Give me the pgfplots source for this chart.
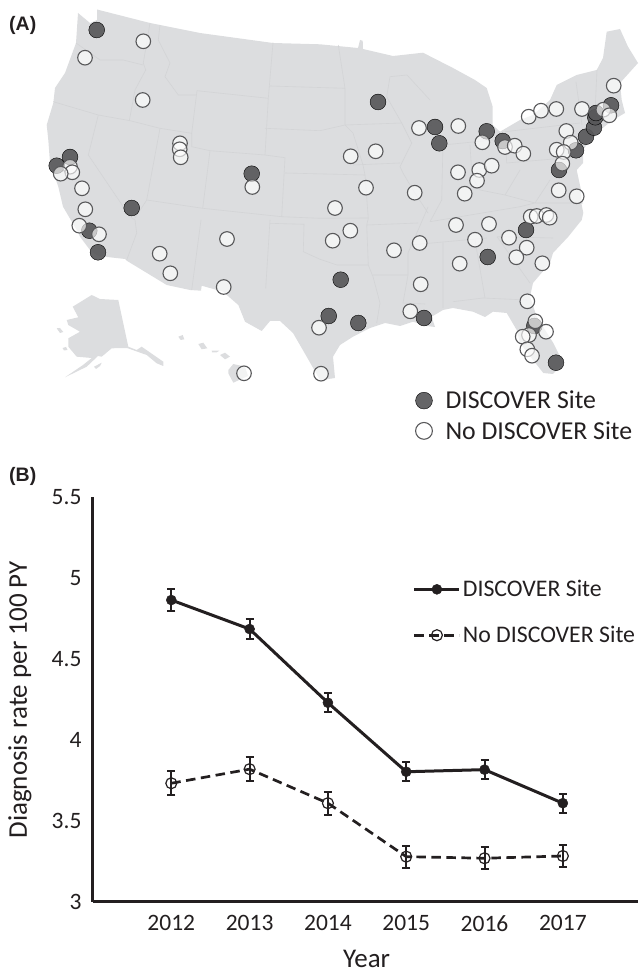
\documentclass[border=0pt]{standalone}
\usepackage{fontspec}
\setmainfont{Carlito}
\newfontfamily\panelfont{Liberation Sans}
\usepackage{pgfplots}
\pgfplotsset{compat=1.18}
\definecolor{mapgray}{HTML}{DCDDDF}
\definecolor{border}{HTML}{D3D4D6}
\definecolor{site}{HTML}{58585A}
\definecolor{ink}{HTML}{231F20}
\begin{document}
\begin{tikzpicture}
\useasboundingbox (0,0) rectangle (638pt,972pt);
\begin{axis}[
  at={(0pt,0pt)}, anchor=south west,
  scale only axis, width=638pt, height=972pt,
  xmin=0, xmax=638, ymin=0, ymax=972, y dir=reverse,
  hide axis, clip=false, unbounded coords=jump,
  legend cell align=left,
  legend style={at={(axis cs:415.5,389)}, anchor=north west, draw=none, fill=none,
    font=\fontsize{25.8}{27}\selectfont, text=ink, row sep=7pt, inner sep=0pt, outer sep=0pt},
  legend image code/.code={
    \node[draw=none, fill=none, inner sep=0pt, minimum width=28pt, minimum height=1pt, anchor=west] at (0pt,0pt) {};
    \draw[#1, only marks, mark size=8.4pt] plot coordinates {(8.5pt,0pt)};
  },
]
% lower 48
\addplot[fill=mapgray, draw=none, forget plot] coordinates {
(78,13)(90,23)(97,20)(97,9.5)(150,23)(200,33)(273,43)(320,44.3)(358,48)(360,40)(362.7,40.7)(363,49)(393,56)(423,52.7)(453,68)(475,80)(486.7,88)(492.7,106.7)(492.7,125)(500,131.7)(520,120)(533,115)(550,100)(556.7,85)(576.7,75)(596.7,70)(603,58)(606.7,31.7)(620,29)(628,46.7)(638,63)(620,83)(621.7,100)(625,113)(613,120)(600,130)(590,140)(583,150)(583,163)(576.7,170)(581,190)(581.7,205)(583.3,213)(581.7,220)(568.3,236.7)(553,253)(550,263)(533,283)(530,296.7)(536.7,316.7)(553.3,343)(563.3,363)(553,374)(543.3,373)(533,360)(520,343)(516.7,330)(506.7,313)(493,311.7)(485,317)(473,311.7)(453,308)(443,310)(431.7,316.7)(435,327)(426.7,326)(413,321.7)(400,326)(385,323)(370,328)(353,336.7)(340,345)(333,356.7)(335,378)(326.7,379.3)(320,380)(306.7,356.7)(293,333)(280,321)(270,321)(261.7,331)(245,321.7)(238.3,305)(223,291.7)(201.7,285.7)(201,290.7)(190,290)(166.7,285)(126.7,260.7)(125,259)(98.3,256)(90,250)(80,236.7)(76.7,230)(63,206.7)(58.3,186.7)(50,163)(48.3,140)(46.7,125)(53.3,103)(55,88)(65,73)(76,43)
} --cycle;
% Alaska
\addplot[fill=mapgray, draw=none, forget plot] coordinates {
(91.7,295)(100,299)(118.3,300)(128.3,346.7)(136.7,350)(141.7,346.7)(163.3,361.7)(163.3,366)(156.7,363.3)(146.7,355)(127,348)(111.7,348.3)(101.7,356.7)(98,356)(86.7,366.7)(65,377.3)(83,365)(91.7,358)(76.7,356.7)(68.3,346.7)(68.3,338.3)(80,331.7)(68.3,325)(66.7,320)(78.3,317.3)(72.7,306.7)
} --cycle;
\addplot[fill=mapgray, draw=none, forget plot] coordinates {(94,366.7)(101.7,362.7)(100,366)(96,369)} --cycle;
\addplot[fill=mapgray, draw=none, forget plot] coordinates {(56.7,328.3)(60,328)(63.3,332)(60,333)} --cycle;
\addplot[fill=mapgray, draw=none, forget plot] coordinates {(62.5,348)(66,347)(67.5,350)(64,350.5)} --cycle;
% Hawaii
\addplot[fill=mapgray, draw=none, forget plot] coordinates {(228.3,370)(233.3,364)(245,366.7)(248,376)(233.3,382.7)(228.3,373.3)} --cycle;
\addplot[fill=mapgray, draw=none, forget plot] coordinates {(220,355)(225,352.7)(230,356.7)(225,359.3)} --cycle;
\addplot[fill=mapgray, draw=none, forget plot] coordinates {(211.7,350.7)(219.3,350.7)(216.7,352.3)(212,352.3)} --cycle;
\addplot[fill=mapgray, draw=none, forget plot] coordinates {(198.3,344)(203.3,342.7)(207.3,348.3)(201.7,349.3)} --cycle;
\addplot[fill=mapgray, draw=none, forget plot] coordinates {(178.3,336.7)(182.7,335)(184.3,339.3)(180.7,340)} --cycle;
% state lines
\addplot[draw=border, line width=0.6pt, forget plot] coordinates {
(76,43)(100,60)(123,60)(143,65)(0,nan)
(150,23)(143.3,63)(145.7,70)(135,90)(129.3,120.7)(0,nan)
(53.3,101.7)(98.3,115)(130,120.7)(160,128.3)(191.7,133.3)(0,nan)
(98.3,115)(88.3,155)(130,216.7)(135,220)(136.7,233)(126.7,260)(0,nan)
(160,128.3)(146.7,200)(135,218)(0,nan)
(160,25)(158.3,40)(170,63)(165,76.7)(178.3,95)(196.7,95)(0,nan)
(197,90.7)(191.7,133.3)(191.7,146.7)(210,150.7)(265,155)(285,157.7)(0,nan)
(197,90.7)(268.3,98.3)(0,nan)
(273,42.7)(268.3,98.3)(265,155)(0,nan)
(210,150.7)(202.7,208.3)(0,nan)
(146.7,200)(202.7,208.3)(281.7,216.7)(320,218.3)(368,218)(0,nan)
(285,157.7)(281.7,216.7)(0,nan)
(285,173)(365,175)(0,nan)
(270,86)(345,88.3)(0,nan)
(265,128.3)(320,130.7)(345,125)(0,nan)
(201,220)(191.7,290)(0,nan)
(270,220)(265.7,288.3)(0,nan)
(270,223.3)(304,224.3)(303.3,251.7)(320,259.3)(337,265)(368.3,265)(0,nan)
(338.3,45)(345,88.3)(345,125)(353,133)(363,165)(365,175)(368.3,218.3)(366.7,225)(368.3,265)(373,276.7)(380,303)(376.7,323)(0,nan)
(373,275)(408,275)(0,nan)
(366.7,225)(418,223)(0,nan)
(428,207)(419,228)(408,253)(408,275)(403,303)(0,nan)
(403,303)(425,304)(0,nan)
(443,243)(443,308)(0,nan)
(345,125)(402,123)(0,nan)
(353,165)(400,163)(0,nan)
(390,76.7)(386.7,96.7)(401.7,123)(411.7,143)(400,166.7)(403,173)(413,190)(428,213)(0,nan)
(390,76.7)(407,75)(430,100)(0,nan)
(411.7,125)(436.7,126)(0,nan)
(443,143)(441.7,200)(430,221.7)(0,nan)
(470,145)(472,177)(480,190)(0,nan)
(443,145)(493,140)(0,nan)
(430,221.7)(520,206.7)(535,203)(583,203)(0,nan)
(410,245)(486.7,238)(0,nan)
(506.7,163)(576.7,157)(0,nan)
(505,131.7)(580,123)(0,nan)
(453,301.7)(483,298)(527,300)(0,nan)
(475,240)(485,298)(0,nan)
(497,236.7)(553,238)(0,nan)
(497,236.7)(530,283)(0,nan)
(506.7,163)(505,135)(0,nan)
(576,82)(582,125)(0,nan)
(597,70)(595,112)(0,nan)
(582,112)(612,110)(0,nan)
(480,190)(505,195)(520,170)(0,nan)
(505,195)(535,203)(550,180)(0,nan)
};
% sites (dark)
\addplot[only marks, mark=*, mark size=7.9pt, mark options={draw=none, fill=site, fill opacity=0.92}] coordinates {
(96.7,30)(70,157)(56.7,165.7)(251.7,173.7)(131.7,208)(89.3,230.7)(98,252.3)
(378,102)(435,127)(439.3,143.3)(486.7,131.3)(502.7,141)(576,150.3)(586,136.7)(594,127.7)(595.3,117.3)(596,113)(611,105.3)(559,170)(526,230)
(340.7,279.7)(328.7,316)(358.3,323)(424,318)(487.7,257)(534.3,326)(556,362.7)
};
\addlegendentry{DISCOVER Site}
% no sites (open)
\addplot[only marks, mark=*, mark size=7.3pt, mark options={draw=site, line width=1.1pt, fill=white, fill opacity=0.65}] coordinates {
(143.3,41.3)(85,57.7)(142.7,100)(180,143.3)(179.7,149.3)(180.7,157.3)(70,166.7)(72.3,172.3)(60.7,173.7)(82,188.3)(252.3,187)(85.3,209.3)(79.3,225.7)(99,234.3)
(227,239)(159.7,253.7)(170.3,273.3)(223.7,287)(244,373.3)(319,327.7)(321,373.7)
(419,128)(458.3,126)(482.3,142.3)(505,147)(514.7,145.7)(523.3,153.7)(528.7,116.7)(541,110.7)(556.3,109)(582,109)(613.7,85.7)(603.3,109.7)(609.3,115.3)(566.3,131)(570.7,142.7)(556.7,149.7)(563.7,152)(562.3,163.7)
(375.7,151.3)(350.7,156.3)(366,187.7)(414.7,192.7)(458,172.3)(479.3,170)(477,180.7)(491.7,165.7)(464.7,193.7)(335,208)(350.3,230.7)(558.7,190.3)(576.7,196.3)(530.7,216.7)(536.7,216)(546.3,215)(549.7,217.7)(456,225)(489,224)
(332.7,240.7)(394,250.3)(419.7,243)(475,239.7)(509,237.7)(526.7,247.7)(516.3,257.3)(459.7,263.7)(542.3,263.3)(420.7,284.3)(527.3,301.3)(410.3,311.3)(535.3,321.3)(546,331.7)(529,335)(522.7,336.7)(527.3,349.3)(532,355.7)
};
\addlegendentry{No DISCOVER Site}
\node[font=\panelfont\bfseries\fontsize{19.5}{21}\selectfont, text=ink, anchor=west, inner sep=0pt] at (axis cs:9,25) {(A)};
\node[font=\panelfont\bfseries\fontsize{19.5}{21}\selectfont, text=ink, anchor=west, inner sep=0pt] at (axis cs:9,476) {(B)};
\end{axis}
\begin{axis}[
  at={(93pt,70pt)}, anchor=south west,
  scale only axis, width=545pt, height=405pt,
  xmin=2011, xmax=2017.96, ymin=3, ymax=5.5,
  axis x line=bottom, axis y line=left,
  axis line style={-, line width=3pt, draw=ink},
  major tick length=0pt,
  xtick={2012,2013,2014,2015,2016,2017},
  xticklabels={2012,2013,2014,2015,2016,2017},
  ytick={3,3.5,4,4.5,5,5.5},
  /pgf/number format/assume math mode=true,
  tick label style={font=\fontsize{23.5}{25}\selectfont, text=ink},
  x tick label style={yshift=-10pt},
  y tick label style={xshift=-8pt},
  xlabel={Year}, ylabel={Diagnosis rate per 100 PY},
  every axis x label/.style={at={(axis description cs:0.502,-0.1605)}, anchor=base, inner sep=0pt, font=\fontsize{27}{29}\selectfont, text=ink},
  every axis y label/.style={at={(axis description cs:-0.134,0.499)}, anchor=center, rotate=90, font=\fontsize{27}{29}\selectfont, text=ink},
  clip=false,
  legend cell align=left,
  legend style={at={(axis description cs:0.587,0.799)}, anchor=north west, draw=none, fill=none,
    font=\fontsize{23.8}{25}\selectfont, text=ink, row sep=24pt, inner sep=0pt, outer sep=0pt},
  legend image code/.code={
    \draw[#1, mark=none] (0pt,0pt) -- (45pt,0pt);
    \draw[#1, only marks] plot coordinates {(22.5pt,0pt)};
  },
]
\addplot[ink, line width=3pt, mark=*, mark size=5pt, mark options={fill=ink, solid, draw=ink, line width=0.5pt},
  error bars/.cd, y dir=both, y explicit,
  error bar style={line width=2pt, ink, solid},
  error mark options={rotate=90, mark size=4pt, line width=2pt, ink, solid}]
  coordinates {
  (2012,4.864) +- (0,0.066)
  (2013,4.685) +- (0,0.064)
  (2014,4.23) +- (0,0.06)
  (2015,3.804) +- (0,0.058)
  (2016,3.817) +- (0,0.06)
  (2017,3.61) +- (0,0.058)
};
\addlegendentry{DISCOVER Site}
\addplot[ink, line width=2.7pt, dash pattern=on 9.5pt off 5.5pt, mark=o, mark size=5.5pt, mark options={solid, draw=ink, line width=1.2pt, fill=none},
  error bars/.cd, y dir=both, y explicit,
  error bar style={line width=2pt, ink, solid},
  error mark options={rotate=90, mark size=4pt, line width=2pt, ink, solid}]
  coordinates {
  (2012,3.733) +- (0,0.074)
  (2013,3.82) +- (0,0.074)
  (2014,3.61) +- (0,0.072)
  (2015,3.28) +- (0,0.068)
  (2016,3.27) +- (0,0.069)
  (2017,3.284) +- (0,0.068)
};
\addlegendentry{No DISCOVER Site}
\end{axis}
\end{tikzpicture}
\end{document}
